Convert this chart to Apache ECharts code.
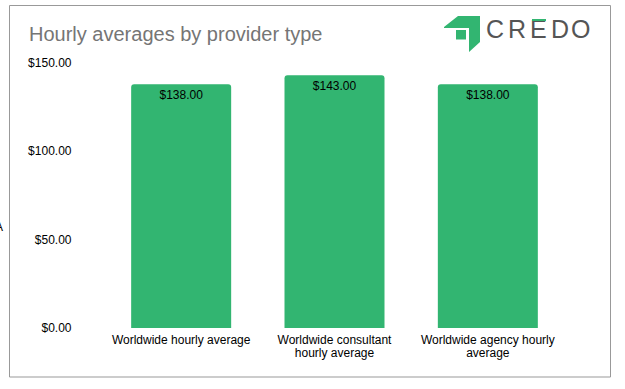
<!DOCTYPE html>
<html><head><meta charset="utf-8">
<script src="https://cdn.jsdelivr.net/npm/echarts@6/dist/echarts.min.js"></script>
<style>html,body{margin:0;background:#fff}#c{width:625px;height:389px}</style></head>
<body><div id="c"></div><script>
const categories = ['Worldwide hourly average','Worldwide consultant\nhourly average','Worldwide agency hourly\naverage'];
const values = [138,143,138];
const chart = echarts.init(document.getElementById('c'),null,{renderer:'svg'});
const F='"Liberation Sans",Arial,sans-serif';
const logoLetters=[['C',486],['R',508],['E',530],['D',551],['O',571]];
chart.setOption({
 animation:false,
 backgroundColor:'#fff',
 grid:{left:104.5,width:460,top:63,height:265},
 xAxis:{type:'category',data:categories,axisLine:{show:false},axisTick:{show:false},
  axisLabel:{color:'#000',fontFamily:F,fontSize:12,lineHeight:13,margin:5,interval:0}},
 yAxis:{type:'value',min:0,max:150,interval:50,splitLine:{show:false},axisLine:{show:false},axisTick:{show:false},
  axisLabel:{color:'#000',fontFamily:F,fontSize:12,margin:33,formatter:v=>'$'+v.toFixed(2)}},
 series:[{type:'bar',data:values,barWidth:100,
  itemStyle:{color:'#32b571',borderRadius:[3,3,0,0]},
  label:{show:true,position:'insideTop',distance:5,color:'#000',fontFamily:F,fontSize:12,formatter:p=>'$'+p.value.toFixed(2)}}],
 graphic:[
  {type:'rect',shape:{x:9.5,y:5.5,width:601,height:371.5},style:{fill:'none',stroke:'#999',lineWidth:1}},
  {type:'text',left:29,top:24,style:{text:'Hourly averages by provider type',fill:'#757575',font:'20px '+F}},
  {type:'polygon',shape:{points:[[444,27],[458,16],[480,16],[480,42],[469,52],[469,28],[444,28]]},style:{fill:'#32b571'}},
  {type:'rect',shape:{x:456,y:30,width:10,height:9.5},style:{fill:'#32b571'}},
  ...logoLetters.map(([t,x])=>({type:'text',left:x,top:16,style:{text:t,fill:'#555',font:'25px '+F}})),
  {type:'rect',shape:{x:532,y:19,width:14,height:2},style:{fill:'#32b571'},z:10},
  {type:'text',left:-5,top:221,style:{text:'A',fill:'#000',font:'12px '+F}}
 ]
});
</script></body></html>
